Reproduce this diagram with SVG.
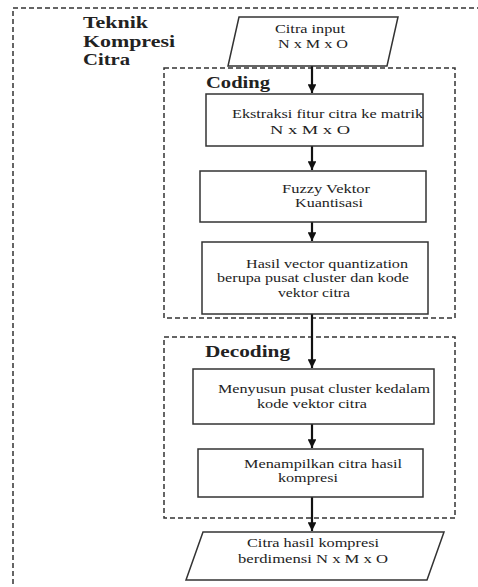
<svg xmlns="http://www.w3.org/2000/svg" width="478" height="587" viewBox="0 0 478 587">
<defs>
<marker id="ah" viewBox="0 0 10 10" refX="10" refY="5" markerWidth="4" markerHeight="4" orient="auto" markerUnits="strokeWidth">
<path d="M0,0 L10,5 L0,10 Z" fill="#111"/>
</marker>
</defs>
<style>
.dash{fill:none;stroke:#333;stroke-width:1.5;stroke-dasharray:5 3}
.box{fill:#fff;stroke:#333;stroke-width:1.5}
.t{font-family:'Liberation Serif','Times New Roman','DejaVu Serif',serif;font-size:13px;fill:#222}
.h{font-family:'Liberation Serif','Times New Roman','DejaVu Serif',serif;font-size:16px;font-weight:bold;fill:#222}
.c{fill:none;stroke:#111;stroke-width:2.2;marker-end:url(#ah)}
</style>
<rect width="478" height="587" fill="#fff"/>
<g id="outer">
<rect class="dash" x="13" y="8" width="500" height="620"/>
<text class="h" x="83" y="28" textLength="65" lengthAdjust="spacingAndGlyphs">Teknik</text>
<text class="h" x="83" y="47" textLength="92" lengthAdjust="spacingAndGlyphs">Kompresi</text>
<text class="h" x="83" y="65" textLength="47" lengthAdjust="spacingAndGlyphs">Citra</text>
</g>
<g id="coding">
<rect class="dash" x="164" y="68" width="291" height="250"/>
<text class="h" x="206" y="88" textLength="64" lengthAdjust="spacingAndGlyphs">Coding</text>
</g>
<g id="decoding">
<rect class="dash" x="164" y="337" width="291" height="181"/>
<text class="h" x="205" y="357" textLength="85" lengthAdjust="spacingAndGlyphs">Decoding</text>
</g>
<g id="connectors">
<line class="c" x1="312" y1="66" x2="312" y2="93"/>
<line class="c" x1="312" y1="146" x2="312" y2="170"/>
<line class="c" x1="312" y1="222" x2="312" y2="241"/>
<line class="c" x1="312" y1="314" x2="312" y2="368"/>
<line class="c" x1="312" y1="424" x2="312" y2="448"/>
<line class="c" x1="312" y1="497" x2="312" y2="531"/>
</g>
<g id="input">
<polygon class="box" points="239,17 398,17 387,66 228,66"/>
<text class="t" x="275" y="33" textLength="70" lengthAdjust="spacingAndGlyphs">Citra input</text>
<text class="t" x="278" y="48" textLength="70" lengthAdjust="spacingAndGlyphs">N x M x O</text>
</g>
<g id="ekstraksi">
<rect class="box" x="206" y="94" width="217" height="52"/>
<text class="t" x="232" y="118" textLength="191" lengthAdjust="spacingAndGlyphs">Ekstraksi fitur citra ke matrik</text>
<text class="t" x="270" y="134" textLength="80" lengthAdjust="spacingAndGlyphs">N x M x O</text>
</g>
<g id="fuzzy">
<rect class="box" x="200" y="171" width="226" height="51"/>
<text class="t" x="282" y="193" textLength="88" lengthAdjust="spacingAndGlyphs">Fuzzy Vektor</text>
<text class="t" x="295" y="207" textLength="68" lengthAdjust="spacingAndGlyphs">Kuantisasi</text>
</g>
<g id="hasil">
<rect class="box" x="202" y="242" width="226" height="72"/>
<text class="t" x="246" y="268" textLength="162" lengthAdjust="spacingAndGlyphs">Hasil vector quantization</text>
<text class="t" x="217" y="282" textLength="192" lengthAdjust="spacingAndGlyphs">berupa pusat cluster dan kode</text>
<text class="t" x="278" y="297" textLength="72" lengthAdjust="spacingAndGlyphs">vektor citra</text>
</g>
<g id="menyusun">
<rect class="box" x="193" y="369" width="241" height="55"/>
<text class="t" x="218" y="393" textLength="212" lengthAdjust="spacingAndGlyphs">Menyusun pusat cluster kedalam</text>
<text class="t" x="257" y="408" textLength="110" lengthAdjust="spacingAndGlyphs">kode vektor citra</text>
</g>
<g id="menampilkan">
<rect class="box" x="198" y="449" width="225" height="48"/>
<text class="t" x="244" y="468" textLength="158" lengthAdjust="spacingAndGlyphs">Menampilkan citra hasil</text>
<text class="t" x="278" y="482" textLength="60" lengthAdjust="spacingAndGlyphs">kompresi</text>
</g>
<g id="output">
<polygon class="box" points="203,532 444,532 427,580 186,580"/>
<text class="t" x="247" y="547" textLength="132" lengthAdjust="spacingAndGlyphs">Citra hasil kompresi</text>
<text class="t" x="238" y="563" textLength="150" lengthAdjust="spacingAndGlyphs">berdimensi N x M x O</text>
</g>
</svg>
